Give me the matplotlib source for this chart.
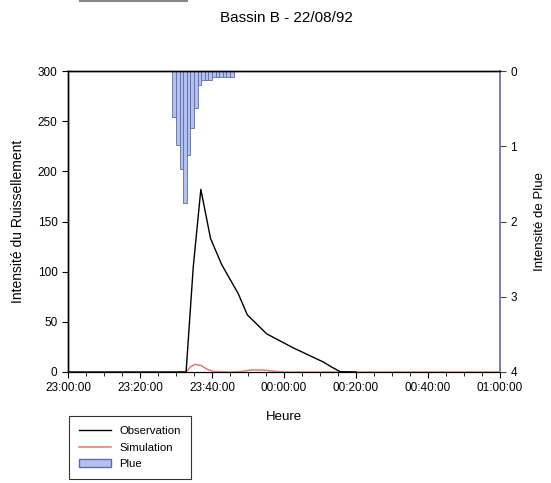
import matplotlib
matplotlib.use("Agg")
import matplotlib.pyplot as plt
from matplotlib.lines import Line2D
from matplotlib.patches import Patch
import numpy as np

plt.rcParams['font.family'] = ['Liberation Sans', 'DejaVu Sans']

# minutes after 23:00
obs_t = [0, 10, 20, 30, 32.8, 34.8, 36.9, 39.6, 42.7, 47.3, 49.8, 55.2, 62.6, 70.9, 73.2, 75.6, 80]
obs_v = [0, 0, 0, 0, 0, 105, 182, 133, 107, 78, 57, 38, 24, 10, 5, 0.3, 0]

sim_t = [30, 32.8, 34.0, 35.3, 37.0, 38.5, 40.3, 45, 48, 51, 54, 57, 60, 70, 80, 90, 100, 110, 120]
sim_v = [0, 0, 5, 7.7, 6.5, 3, 0.5, 0, 0.5, 2, 2, 0.8, 0, 0, 0, 0, 0, 0, 0]

rain_t = [29, 30, 31, 32, 33, 34, 35, 36, 37, 38, 39, 40, 41, 42, 43, 44, 45]
rain_v = [0.61, 0.98, 1.3, 1.75, 1.12, 0.76, 0.49, 0.19, 0.12, 0.12, 0.12, 0.08, 0.08, 0.08, 0.08, 0.08, 0.08]

xtick_pos = [0, 20, 40, 60, 80, 100, 120]
xtick_lab = ["23:00:00", "23:20:00", "23:40:00", "00:00:00", "00:20:00", "00:40:00", "01:00:00"]

fig = plt.figure(figsize=(5.51, 4.83), dpi=100)
ax = fig.add_axes([68/551, 1-372/483, (500-68)/551, (372-71)/483])
ax2 = ax.twinx()

ax2.bar(rain_t, rain_v, width=1.0, align='edge', color='#b4c2ea', edgecolor='#5a6cb4', linewidth=0.6)
ax2.set_ylim(4, 0)
ax2.set_yticks([0, 1, 2, 3, 4])
ax2.tick_params(axis='y', labelsize=8.5, length=4, direction='out', color='#444444')
ax2.set_ylabel("Intensité de Plue", fontsize=9.5, labelpad=12)

ax.plot(sim_t, sim_v, color='#e07a6a', lw=1.1, zorder=3)
ax.plot(obs_t, obs_v, color='black', lw=1.0, zorder=4)
ax.set_ylim(0, 300)
ax.set_xlim(0, 120)
ax.set_yticks([0, 50, 100, 150, 200, 250, 300])
ax.set_xticks(xtick_pos)
ax.set_xticklabels(xtick_lab)
ax.set_xticks(np.arange(0, 121, 5), minor=True)
ax.tick_params(axis='both', which='major', labelsize=8.5, length=4, direction='out')
ax.tick_params(axis='x', which='minor', length=3, direction='out')
ax.set_ylabel("Intensité du Ruissellement", fontsize=10, labelpad=9)
ax.set_xlabel("Heure", fontsize=9.5, labelpad=12)
ax.set_zorder(ax2.get_zorder() + 1)
ax.patch.set_visible(False)

for a in (ax, ax2):
    a.spines['right'].set_color('#7a7ab8')
    a.spines['right'].set_linewidth(1.2)
    a.spines['top'].set_color('black')
    a.spines['top'].set_linewidth(1.0)
    a.spines['left'].set_linewidth(1.0)
    a.spines['bottom'].set_linewidth(0.8)

fig.text(286/551, 1-18/483, "Bassin B - 22/08/92", ha='center', va='center', fontsize=11)
fig.add_artist(Line2D([80/551, 187/551], [1-1/483, 1-1/483], color='#888888', lw=1.5))

handles = [Line2D([], [], color='black', lw=1.0),
           Line2D([], [], color='#e07a6a', lw=1.1),
           Patch(facecolor='#b4c2ea', edgecolor='#5a6cb4')]
leg = fig.legend(handles, ["Observation", "Simulation", "Plue"], loc='upper left',
                 bbox_to_anchor=(69/551, 1-416/483), fontsize=8.2, frameon=True,
                 fancybox=False, edgecolor='black', handlelength=2.8, borderpad=0.9,
                 labelspacing=0.55, handletextpad=0.7, borderaxespad=0)
leg.get_frame().set_linewidth(0.8)

fig.savefig("out.png", dpi=100)
